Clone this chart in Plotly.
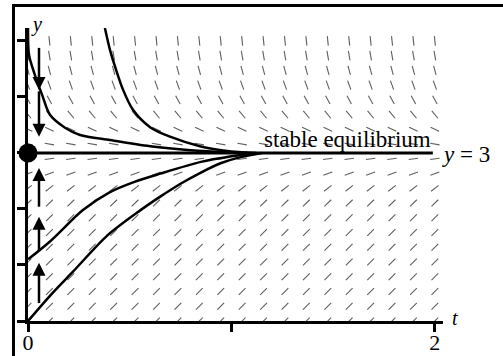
import numpy as np
import plotly.graph_objects as go

# ---- data -------------------------------------------------------------
equilibrium = 3.0

# slope-field grid (autonomous equation: slope depends on y only)
t_grid = np.linspace(0, 2, 20)
y_rows = np.linspace(0, 5, 20)
row_slope = [3.6, 3.6, 3.6, 3.6, 3.6, 3.6, 3.6, 3.6, 3.5, 2.8,
             1.3, 0.5, -0.6, -1.7, -4.3, -6.8, -10.0, -13.6, -20.6, -34.6]

# solution curves
curve_a_t = [0.0, 0.005, 0.034, 0.069, 0.108, 0.182, 0.256, 0.403, 0.60, 0.80, 1.0, 1.08]
curve_a_y = [5.23, 4.75, 4.39, 4.04, 3.68, 3.45, 3.32, 3.23, 3.12, 3.05, 3.01, 3.0]

curve_b_t = [0.378, 0.403, 0.428, 0.467, 0.516, 0.60, 0.698, 0.845, 0.95, 1.05, 1.12]
curve_b_y = [5.23, 4.84, 4.54, 4.13, 3.77, 3.46, 3.29, 3.12, 3.05, 3.01, 3.0]

curve_c_t = [0.0, 0.108, 0.27, 0.403, 0.52, 0.65, 0.85, 1.0, 1.12]
curve_c_y = [1.1, 1.42, 1.98, 2.30, 2.48, 2.63, 2.84, 2.94, 3.0]

curve_d_t = [0.0, 0.108, 0.221, 0.388, 0.55, 0.65, 0.75, 0.85, 0.95, 1.05, 1.15]
curve_d_y = [0.0, 0.45, 0.88, 1.52, 1.97, 2.22, 2.45, 2.65, 2.82, 2.93, 3.0]

# phase-line arrows next to the y-axis: (start, tip)
arrow_t = 0.054
down_arrows = [(4.875, 4.125), (4.10, 3.29)]
up_arrows = [(0.32, 1.04), (1.25, 1.86), (2.04, 2.73)]

x_ticks = [0, 1, 2]
x_tick_text = ["0", "", "2"]
y_ticks = [0, 1, 2, 3, 4, 5]

# ---- geometry ---------------------------------------------------------
W, H = 503, 356
ML, MR, MT, MB = 28, 60, 28, 35
x_range = [0, 2.04]
y_range = [0, 5.23]
sx = (W - ML - MR) / (x_range[1] - x_range[0])   # px per t unit
sy = (H - MT - MB) / (y_range[1] - y_range[0])   # px per y unit

def paper_x(px):
    return (px - ML) / (W - ML - MR)

def paper_y(py):
    return (H - MB - py) / (H - MT - MB)

FONT = "Liberation Serif, Times New Roman, DejaVu Serif, serif"
fig = go.Figure()

# slope field segments, constant on-screen length
seg_len = 9.5
sx_list, sy_list = [], []
for yv, m in zip(y_rows, row_slope):
    n = np.hypot(sx, sy * m)
    dt = seg_len / 2 / n
    dy = seg_len / 2 * m / n
    for tv in t_grid:
        sx_list += [tv - dt, tv + dt, None]
        sy_list += [yv - dy, yv + dy, None]
fig.add_trace(go.Scatter(x=sx_list, y=sy_list, mode="lines",
                         line=dict(color="#5f5f5f", width=1.1),
                         hoverinfo="skip", showlegend=False))

# equilibrium solution
fig.add_trace(go.Scatter(x=[0, 1.99], y=[equilibrium, equilibrium], mode="lines",
                         line=dict(color="black", width=3), showlegend=False))

# solution curves
for ct, cy in [(curve_a_t, curve_a_y), (curve_b_t, curve_b_y),
               (curve_c_t, curve_c_y), (curve_d_t, curve_d_y)]:
    fig.add_trace(go.Scatter(x=ct, y=cy, mode="lines",
                             line=dict(color="black", width=2.5, shape="spline", smoothing=0.8),
                             showlegend=False))

# phase-line arrows
head_len = 13 / sy
ax_x, ax_y = [], []
for y0, y1 in down_arrows:
    ax_x += [arrow_t, arrow_t, None]
    ax_y += [y0, y1 + head_len * 0.5, None]
for y0, y1 in up_arrows:
    ax_x += [arrow_t, arrow_t, None]
    ax_y += [y0, y1 - head_len * 0.5, None]
fig.add_trace(go.Scatter(x=ax_x, y=ax_y, mode="lines",
                         line=dict(color="black", width=2.5), showlegend=False))
fig.add_trace(go.Scatter(x=[arrow_t] * len(down_arrows), y=[a[1] for a in down_arrows],
                         mode="markers", marker=dict(symbol="arrow-down", size=13, color="black"),
                         cliponaxis=False, showlegend=False))
fig.add_trace(go.Scatter(x=[arrow_t] * len(up_arrows), y=[a[1] for a in up_arrows],
                         mode="markers", marker=dict(symbol="arrow-up", size=13, color="black"),
                         cliponaxis=False, showlegend=False))

# equilibrium point on the y-axis
fig.add_trace(go.Scatter(x=[0], y=[equilibrium], mode="markers",
                         marker=dict(size=19, color="black"), cliponaxis=False, showlegend=False))

# labels
fig.add_annotation(x=1.99, y=equilibrium, text="stable equilibrium", showarrow=False,
                   xanchor="right", yanchor="middle", yshift=13,
                   font=dict(family=FONT, size=23, color="black"))
fig.add_annotation(x=2.0, y=equilibrium, text="<i>y</i> = 3", showarrow=False,
                   xanchor="left", yanchor="middle", xshift=5, yshift=-2,
                   font=dict(family=FONT, size=23, color="black"))
fig.add_annotation(xref="paper", yref="paper", x=paper_x(36), y=paper_y(24), text="<i>y</i>",
                   showarrow=False, xanchor="center", yanchor="middle",
                   font=dict(family=FONT, size=20, color="black"))
fig.add_annotation(xref="paper", yref="paper", x=paper_x(455), y=paper_y(318), text="<i>t</i>",
                   showarrow=False, xanchor="center", yanchor="middle",
                   font=dict(family=FONT, size=20, color="black"))

# frame (top and left edges)
fig.add_shape(type="line", xref="paper", yref="paper",
              x0=paper_x(13.5), x1=paper_x(W + 2), y0=paper_y(5.5), y1=paper_y(5.5),
              line=dict(color="black", width=3))
fig.add_shape(type="line", xref="paper", yref="paper",
              x0=paper_x(13.5), x1=paper_x(13.5), y0=paper_y(4), y1=paper_y(H + 2),
              line=dict(color="black", width=3))

fig.update_layout(
    width=W, height=H, autosize=False,
    margin=dict(l=ML, r=MR, t=MT, b=MB, pad=0, autoexpand=False),
    paper_bgcolor="white", plot_bgcolor="white",
    xaxis=dict(range=x_range, showgrid=False, zeroline=False, showline=True, automargin=False,
               linecolor="black", linewidth=3, ticks="outside", ticklen=8, tickwidth=3,
               tickcolor="black", tickvals=x_ticks, ticktext=x_tick_text,
               ticklabelstandoff=-8,
               tickfont=dict(family=FONT, size=22, color="black")),
    yaxis=dict(range=y_range, showgrid=False, zeroline=False, showline=True, automargin=False,
               linecolor="black", linewidth=3, ticks="outside", ticklen=8, tickwidth=3,
               tickcolor="black", tickvals=y_ticks, showticklabels=False),
)

fig.write_html("out.html")
